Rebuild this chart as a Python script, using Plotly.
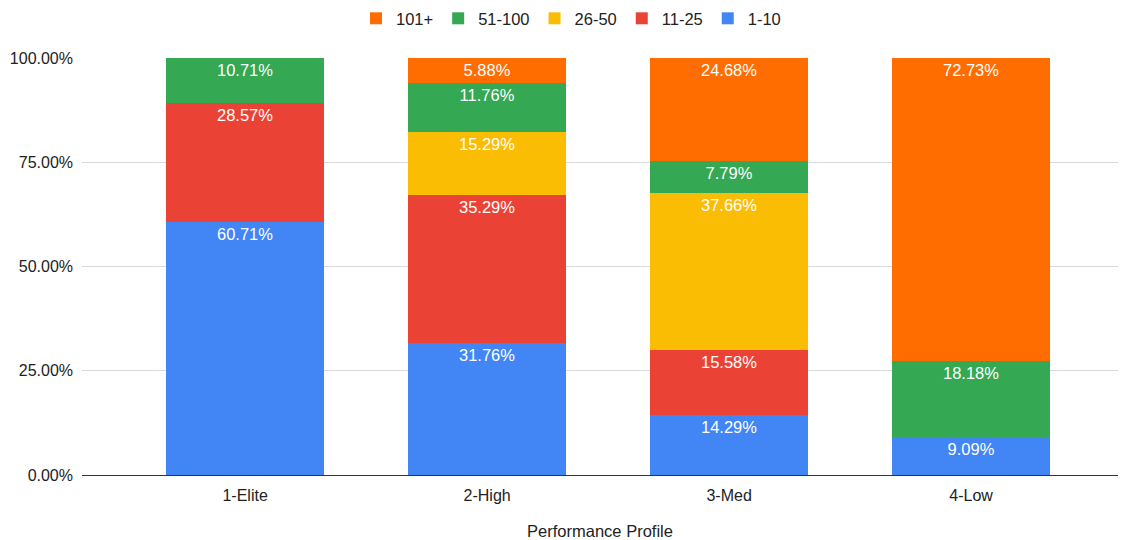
import plotly.graph_objects as go

categories = ["1-Elite", "2-High", "3-Med", "4-Low"]
series_names = ["1-10", "11-25", "26-50", "51-100", "101+"]
share_1_10 = [60.71, 31.76, 14.29, 9.09]
share_11_25 = [28.57, 35.29, 15.58, 0.0]
share_26_50 = [0.0, 15.29, 37.66, 0.0]
share_51_100 = [10.71, 11.76, 7.79, 18.18]
share_101_plus = [0.0, 5.88, 24.68, 72.73]
y_ticks = [0, 0.25, 0.5, 0.75, 1.0]

series_values = [share_1_10, share_11_25, share_26_50, share_51_100, share_101_plus]
colors = ["#4285F4", "#EA4335", "#FBBC04", "#34A853", "#FF6D01"]
positions = list(range(len(categories)))

fig = go.Figure()
for name, vals, col in zip(series_names, series_values, colors):
    fig.add_trace(go.Bar(
        x=positions,
        y=[v / 100 for v in vals],
        name=name,
        marker=dict(color=col, line=dict(width=0)),
        text=[f"{v:.2f}%" if v > 0 else "" for v in vals],
        textposition="inside",
        insidetextanchor="end",
        textangle=0,
        constraintext="none",
        textfont=dict(color="white", size=16.5, family="Liberation Sans, Arial, sans-serif"),
        hoverinfo="skip",
    ))

fig.update_layout(
    barmode="stack",
    bargap=0.35,
    width=1122,
    height=540,
    margin=dict(l=82, r=4, t=58, b=65),
    paper_bgcolor="white",
    plot_bgcolor="white",
    font=dict(family="Liberation Sans, Arial, sans-serif", color="#222222", size=16),
    legend=dict(
        orientation="h",
        traceorder="reversed",
        x=0.472, xanchor="center",
        y=0.998, yanchor="top",
        yref="container",
        font=dict(size=16.5, color="#222222"),
        itemwidth=30,
    ),
    xaxis=dict(
        tickmode="array",
        tickvals=positions,
        ticktext=categories,
        range=[-0.674, 3.607],
        showgrid=False,
        showline=False,
        ticks="",
        ticklabelstandoff=9,
        tickfont=dict(size=16, color="#222222"),
        title=dict(text="Performance Profile", font=dict(size=16.5, color="#222222"), standoff=26),
        automargin=False,
        fixedrange=True,
    ),
    yaxis=dict(
        range=[0, 1],
        tickvals=y_ticks,
        tickformat=".2%",
        showgrid=True,
        gridcolor="#D9D9D9",
        gridwidth=1,
        zeroline=True,
        zerolinecolor="#333333",
        zerolinewidth=1,
        ticks="",
        ticklabelstandoff=8,
        tickfont=dict(size=16, color="#222222"),
        automargin=False,
        fixedrange=True,
    ),
)

fig.write_html("out.html")
